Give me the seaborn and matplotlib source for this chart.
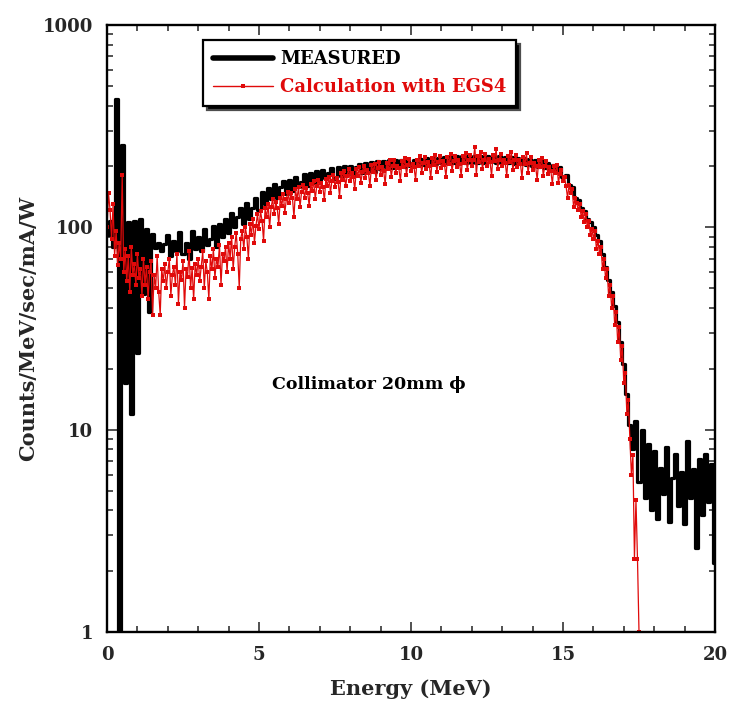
import numpy as np
import pandas as pd
import matplotlib
matplotlib.use("Agg")
import matplotlib.pyplot as plt
import seaborn as sns
from matplotlib.lines import Line2D
from matplotlib.ticker import MultipleLocator, LogLocator, NullFormatter

# ---------------- data ----------------
measured_step = 0.1     # MeV per measured channel, starting at 0 MeV
calculated_step = 0.05  # MeV per calculated channel, starting at 0 MeV

measured = [
    92, 108, 80, 430, 1.0, 255, 17, 106, 12, 108,
    24, 110, 47, 98, 38, 93, 79, 84, 76, 83,
    92, 72, 86, 76, 95, 74, 84, 70, 96, 78,
    90, 76, 98, 82, 88, 102, 80, 104, 90, 110,
    94, 118, 100, 112, 124, 104, 132, 110, 124, 140,
    122, 150, 130, 156, 138, 164, 140, 158, 170, 146,
    172, 152, 178, 158, 168, 184, 160, 186, 166, 190,
    170, 192, 176, 186, 196, 174, 198, 180, 200, 184,
    202, 182, 198, 206, 186, 208, 190, 210, 188, 212,
    194, 212, 198, 214, 196, 216, 200, 214, 198, 218,
    202, 216, 203, 218, 204, 219, 205, 220, 206, 221,
    207, 222, 207, 223, 208, 224, 208, 224, 209, 225,
    209, 225, 209, 226, 209, 225, 210, 225, 209, 224,
    208, 223, 207, 222, 206, 221, 205, 219, 203, 217,
    201, 215, 199, 212, 196, 208, 192, 203, 187, 198,
    178, 182, 162, 158, 140, 136, 124, 120, 110, 106,
    100, 92, 86, 74, 64, 55, 48, 41, 34, 27,
    21, 15, 10.5, 8, 11, 5.5, 10, 4.6, 8.5, 4,
    7.8, 3.6, 6.5, 4.8, 8.2, 3.5, 5.8, 7.6, 4.2, 6.2,
    3.4, 8.8, 4.6, 6.4, 2.6, 7.2, 3.8, 7.6, 4.4, 6.8,
    2.2,
]

calculated = [
    100, 147, 122, 88, 130, 72, 96, 65, 84, 70, 181, 60, 78, 54, 72, 48, 80, 58, 66, 52,
    74, 56, 62, 46, 70, 52, 64, 44, 60, 68, 37, 58, 50, 72, 48, 37, 62, 54, 66, 50,
    60, 70, 46, 58, 64, 52, 74, 42, 60, 55, 68, 40, 62, 57, 76, 50, 63, 44, 66, 58,
    70, 54, 64, 76, 50, 68, 60, 44, 72, 62, 78, 56, 70, 64, 82, 52, 74, 68, 80, 60,
    84, 70, 90, 62, 80, 94, 74, 50, 88, 96, 78, 100, 90, 70, 104, 92, 110, 84, 102, 116,
    98, 120, 108, 86, 124, 112, 130, 100, 126, 138, 116, 134, 124, 104, 140, 128, 146, 118, 138, 150,
    132, 148, 140, 112, 154, 138, 158, 126, 150, 162, 140, 156, 148, 128, 164, 152, 170, 138, 160, 172,
    150, 166, 158, 136, 174, 160, 178, 148, 170, 182, 158, 176, 168, 142, 186, 172, 190, 160, 180, 194,
    170, 186, 178, 154, 194, 180, 198, 166, 188, 202, 176, 192, 186, 160, 204, 188, 206, 172, 196, 210,
    182, 198, 190, 164, 208, 194, 214, 178, 200, 216, 186, 202, 196, 170, 212, 198, 220, 182, 204, 218,
    190, 206, 198, 172, 216, 200, 224, 186, 208, 222, 194, 210, 202, 176, 220, 204, 228, 188, 210, 224,
    196, 212, 204, 178, 222, 206, 230, 190, 212, 226, 198, 214, 206, 180, 224, 208, 234, 192, 214, 228,
    200, 216, 250, 182, 226, 210, 236, 194, 216, 230, 202, 218, 210, 180, 228, 212, 244, 194, 216, 230,
    200, 216, 208, 180, 226, 210, 236, 192, 214, 228, 198, 214, 206, 176, 222, 206, 232, 186, 208, 222,
    192, 208, 200, 172, 214, 198, 220, 180, 200, 212, 184, 198, 190, 164, 200, 186, 204, 166, 184, 192,
    170, 178, 160, 140, 162, 148, 154, 126, 140, 132, 122, 130, 112, 120, 106, 116, 100, 108, 92, 98,
    88, 96, 78, 86, 74, 80, 62, 70, 56, 62, 46, 52, 40, 46, 33, 38, 27, 32, 22, 26,
    17, 19, 12, 14, 9, 6, 7.5, 2.3, 4.5, 2.3, 1.0,
]

series_labels = ["MEASURED", "Calculation with EGS4"]
x_ticks = [0, 5, 10, 15, 20]
x_tick_labels = ["0", "5", "10", "15", "20"]
y_ticks = [1, 10, 100, 1000]
y_tick_labels = ["1", "10", "100", "1000"]
x_label = "Energy (MeV)"
y_label = "Counts/MeV/sec/mA/W"
annotation = "Collimator 20mm \u03d5"

# ---------------- styling ----------------
RED = "#e00a0a"
sns.set_theme(style="ticks")
plt.rcParams["font.family"] = ["DejaVu Serif", "DejaVu Sans"]
plt.rcParams["font.weight"] = "bold"
plt.rcParams["axes.labelweight"] = "bold"

fig = plt.figure(figsize=(7.33, 7.15), dpi=100)
ax = fig.add_axes([107 / 733, 1 - 632 / 715, (715 - 107) / 733, (632 - 25) / 715])

df_m = pd.DataFrame({"Energy": np.round(np.arange(len(measured)) * measured_step, 3),
                     "Counts": measured})
df_c = pd.DataFrame({"Energy": np.round(np.arange(len(calculated)) * calculated_step, 3),
                     "Counts": calculated})

sns.lineplot(data=df_m, x="Energy", y="Counts", ax=ax, color="black",
             linewidth=2.3, drawstyle="steps-mid", estimator=None, legend=False)
sns.lineplot(data=df_c, x="Energy", y="Counts", ax=ax, color=RED,
             linewidth=0.9, marker="s", markersize=2.6, markeredgewidth=0,
             estimator=None, legend=False)

ax.set_yscale("log")
ax.set_xlim(0, 20)
ax.set_ylim(1, 1000)

ax.set_xticks(x_ticks)
ax.set_xticklabels(x_tick_labels)
ax.xaxis.set_minor_locator(MultipleLocator(1))
ax.set_yticks(y_ticks)
ax.set_yticklabels(y_tick_labels)
ax.yaxis.set_minor_locator(LogLocator(base=10, subs=np.arange(2, 10)))
ax.yaxis.set_minor_formatter(NullFormatter())

ax.tick_params(which="both", direction="in", top=True, right=True,
               color="#333333", width=1.2, labelsize=13)
ax.tick_params(which="major", length=7.5, pad=10)
ax.tick_params(which="minor", length=4.5)
for lab in ax.get_xticklabels() + ax.get_yticklabels():
    lab.set_fontweight("bold")

for sp in ax.spines.values():
    sp.set_linewidth(1.7)
    sp.set_color("black")

ax.set_xlabel(x_label, fontsize=15, fontweight="bold", labelpad=11)
ax.set_ylabel(y_label, fontsize=15, fontweight="bold", labelpad=3)

ax.text(5.43, 16.7, annotation, fontsize=12.5, fontweight="bold",
        va="center", ha="left", color="black")

handles = [Line2D([], [], color="black", linewidth=4),
           Line2D([], [], color=RED, linewidth=1.0, marker="s",
                  markersize=3, markeredgewidth=0)]
leg = ax.legend(handles, series_labels, loc="upper left",
                bbox_to_anchor=(0.158, 0.975), numpoints=1,
                prop={"family": "DejaVu Serif", "weight": "bold", "size": 13},
                handlelength=3.3, handletextpad=0.4, labelspacing=0.55,
                borderpad=0.55, borderaxespad=0, fancybox=False,
                frameon=True,
                shadow={"ox": 3, "oy": -3, "facecolor": "black", "alpha": 1})
leg.get_frame().set_edgecolor("black")
leg.get_frame().set_linewidth(1.6)
leg.get_frame().set_facecolor("white")
leg.get_frame().set_alpha(1)
leg.get_texts()[0].set_color("black")
leg.get_texts()[1].set_color(RED)

fig.savefig("out.png", dpi=100)
